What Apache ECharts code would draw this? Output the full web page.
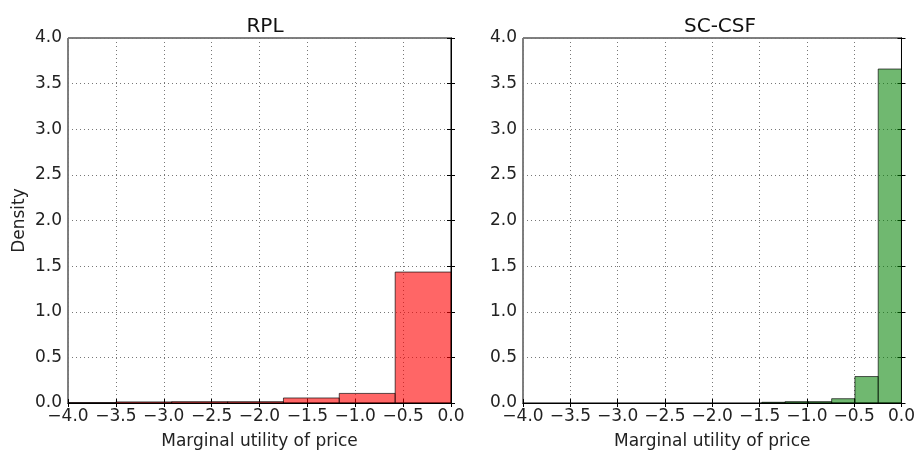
<!DOCTYPE html>
<html>
<head>
<meta charset="utf-8">
<script src="https://cdn.jsdelivr.net/npm/echarts@6/dist/echarts.min.js"></script>
<style>
  html, body { margin: 0; padding: 0; background: #fff; }
  #chart { width: 918px; height: 455px; }
</style>
</head>
<body>
<div id="chart"></div>
<script>
// histogram data
const titles = ['RPL', 'SC-CSF'];
const xTicks = [-4, -3.5, -3, -2.5, -2, -1.5, -1, -0.5, 0];

const rplEdges = [-4.083, -3.5, -2.917, -2.333, -1.75, -1.167, -0.583, 0];
const rplDensity = [0.004, 0.012, 0.015, 0.015, 0.055, 0.105, 1.435];

const scEdges = [-1.476, -1.23, -0.984, -0.738, -0.492, -0.246, 0];
const scDensity = [0.008, 0.015, 0.015, 0.047, 0.29, 3.66];

const FONT = 'DejaVu Sans';

const toBins = (edges, dens) => dens.map((d, i) => [edges[i], edges[i + 1], d]);

const fmt = v => v.toFixed(1).replace('-', '\u2212');

const chart = echarts.init(document.getElementById('chart'));

const grids = [
  { left: 68, right: 467, top: 38, bottom: 51 },
  { left: 523, right: 12, top: 38, bottom: 51 }
];

const xAxes = [], yAxes = [], series = [];
const colors = ['rgba(255,0,0,0.6)', 'rgba(0,128,0,0.56)'];
const allBins = [toBins(rplEdges, rplDensity), toBins(scEdges, scDensity)];

const gridLine = { show: true, lineStyle: { color: '#777', type: [1, 3], width: 1 } };

grids.forEach((g, i) => {
  g.show = true;
  g.borderColor = '#000';
  g.borderWidth = 1;
  g.backgroundColor = '#fff';
  // bottom x axis with labels
  xAxes.push({
    type: 'value', gridIndex: i, min: -4, max: 0, interval: 0.5,
    position: 'bottom',
    name: 'Marginal utility of price', nameLocation: 'middle', nameGap: 30,
    nameTextStyle: { fontFamily: FONT, fontSize: 17, color: '#222' },
    axisLine: { show: true, lineStyle: { color: '#000' } },
    axisTick: { show: true, inside: true, length: 4, lineStyle: { color: '#000' } },
    axisLabel: { formatter: fmt, fontFamily: FONT, fontSize: 17, color: '#222', margin: 5 },
    splitLine: gridLine
  });
  // top axis just for ticks
  xAxes.push({
    type: 'value', gridIndex: i, min: -4, max: 0, interval: 0.5, position: 'top',
    axisLine: { show: true, lineStyle: { color: '#000' } },
    axisTick: { show: true, inside: true, length: 4, lineStyle: { color: '#000' } },
    axisLabel: { show: false }, splitLine: { show: false }
  });
  yAxes.push({
    type: 'value', gridIndex: i, min: 0, max: 4, interval: 0.5, position: 'left',
    name: i === 0 ? 'Density' : '', nameLocation: 'middle', nameGap: 40,
    nameTextStyle: { fontFamily: FONT, fontSize: 17, color: '#222' },
    axisLine: { show: true, lineStyle: { color: '#000' } },
    axisTick: { show: true, inside: true, length: 4, lineStyle: { color: '#000' } },
    axisLabel: { formatter: fmt, fontFamily: FONT, fontSize: 17, color: '#222', margin: 6 },
    splitLine: gridLine
  });
  yAxes.push({
    type: 'value', gridIndex: i, min: 0, max: 4, interval: 0.5, position: 'right',
    axisLine: { show: true, lineStyle: { color: '#000' } },
    axisTick: { show: true, inside: true, length: 4, lineStyle: { color: '#000' } },
    axisLabel: { show: false }, splitLine: { show: false }
  });

  series.push({
    type: 'custom',
    xAxisIndex: i * 2,
    yAxisIndex: i * 2,
    clip: true,
    data: allBins[i],
    encode: { x: [0, 1], y: 2 },
    renderItem: (params, api) => {
      const p0 = api.coord([api.value(0), api.value(2)]);
      const p1 = api.coord([api.value(1), 0]);
      const shape = echarts.graphic.clipRectByRect(
        { x: p0[0], y: p0[1], width: p1[0] - p0[0], height: p1[1] - p0[1] },
        params.coordSys
      );
      return shape && {
        type: 'rect',
        shape: shape,
        style: { fill: colors[i], stroke: 'rgba(0,0,0,0.65)', lineWidth: 1 }
      };
    },
    z: 3
  });
});

chart.setOption({
  animation: false,
  title: titles.map((t, i) => ({
    text: t,
    left: i === 0 ? 260 : 715,
    top: 12,
    textAlign: 'center',
    textStyle: { fontFamily: FONT, fontSize: 20, fontWeight: 'normal', color: '#111' }
  })),
  grid: grids,
  xAxis: xAxes,
  yAxis: yAxes,
  series: series
});
</script>
</body>
</html>
